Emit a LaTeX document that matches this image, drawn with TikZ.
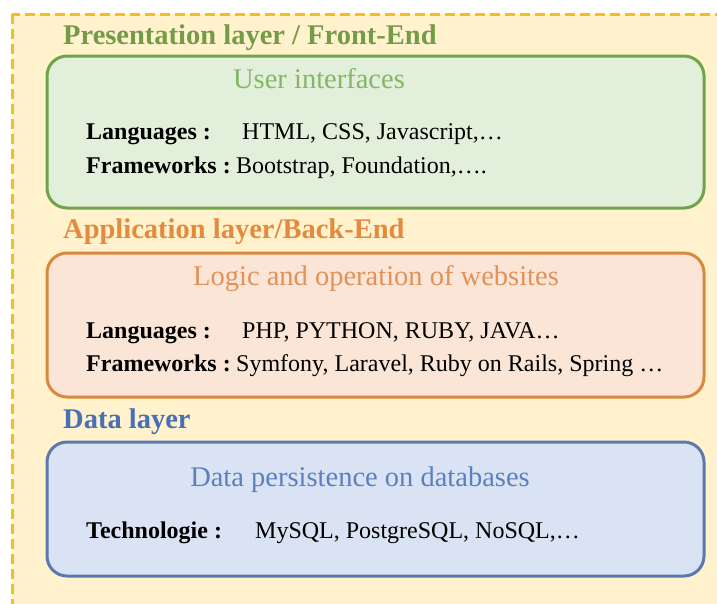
\documentclass[tikz,border=0pt]{standalone}
\usepackage{fontspec}
\setmainfont{Liberation Serif}
\definecolor{cream}{HTML}{FFF2CC}
\definecolor{gold}{HTML}{F2BF22}
\definecolor{gtitle}{HTML}{749B48}
\definecolor{gfill}{HTML}{E2EFDA}
\definecolor{gline}{HTML}{70A44A}
\definecolor{gsub}{HTML}{84B765}
\definecolor{otitle}{HTML}{E48A3E}
\definecolor{ofill}{HTML}{FBE5D6}
\definecolor{oline}{HTML}{D8893F}
\definecolor{osub}{HTML}{E0925A}
\definecolor{btitle}{HTML}{4A6FB5}
\definecolor{bfill}{HTML}{DAE3F3}
\definecolor{bline}{HTML}{5A7AAE}
\definecolor{bsub}{HTML}{5B80C0}
\tikzset{
  layerbox/.style={rounded corners=20pt, line width=3pt},
  ttl/.style={anchor=base west, inner sep=0pt, font=\fontsize{28.5}{28.5}\selectfont\bfseries},
  sub/.style={anchor=base, inner sep=0pt, font=\fontsize{28.5}{28.5}\selectfont},
  lbl/.style={anchor=base west, inner sep=0pt, font=\fontsize{24}{24}\selectfont\bfseries},
  val/.style={anchor=base west, inner sep=0pt, font=\fontsize{24}{24}\selectfont},
}
\begin{document}
\begin{tikzpicture}[x=1pt,y=-1pt]
\useasboundingbox (0,0) rectangle (717,603);
\fill[white] (0,0) rectangle (717,603);
% outer dashed frame
\draw[fill=cream, draw=gold, line width=3pt, dash pattern=on 10pt off 5pt] (12,14) rectangle (760,650);
% presentation layer
\node[ttl, text=gtitle] (t1) at (63,44) {Presentation layer / Front-End};
\draw[layerbox, fill=gfill, draw=gline] (47,56) rectangle (704,208);
\node[sub, text=gsub] (s1) at (319,88) {User interfaces};
\node[lbl] (l1) at (86,139) {Languages :};
\node[val] (v1) at (242,139) {HTML, CSS, Javascript,\dots};
\node[lbl] (f1) at (86,173) {Frameworks :};
\node[val, anchor=base west] (w1) at ([xshift=5pt]f1.base east) {Bootstrap, Foundation,\dots.};
% application layer
\node[ttl, text=otitle] (t2) at (63,238) {Application layer/Back-End};
\draw[layerbox, fill=ofill, draw=oline] (47,253) rectangle (704,397);
\node[sub, text=osub] (s2) at (376,285) {Logic and operation of websites};
\node[lbl] (l2) at (86,338) {Languages :};
\node[val] (v2) at (242,338) {PHP, PYTHON, RUBY, JAVA\dots};
\node[lbl] (f2) at (86,371) {Frameworks :};
\node[val, anchor=base west] (w2) at ([xshift=5pt]f2.base east) {Symfony, Laravel, Ruby on Rails, Spring \dots};
% data layer
\node[ttl, text=btitle] (t3) at (63,428) {Data layer};
\draw[layerbox, fill=bfill, draw=bline] (47,442) rectangle (704,576);
\node[sub, text=bsub] (s3) at (360,486) {Data persistence on databases};
\node[lbl] (l3) at (86,538) {Technologie :};
\node[val] (v3) at (255,538) {MySQL, PostgreSQL, NoSQL,\dots};
\end{tikzpicture}
\end{document}
